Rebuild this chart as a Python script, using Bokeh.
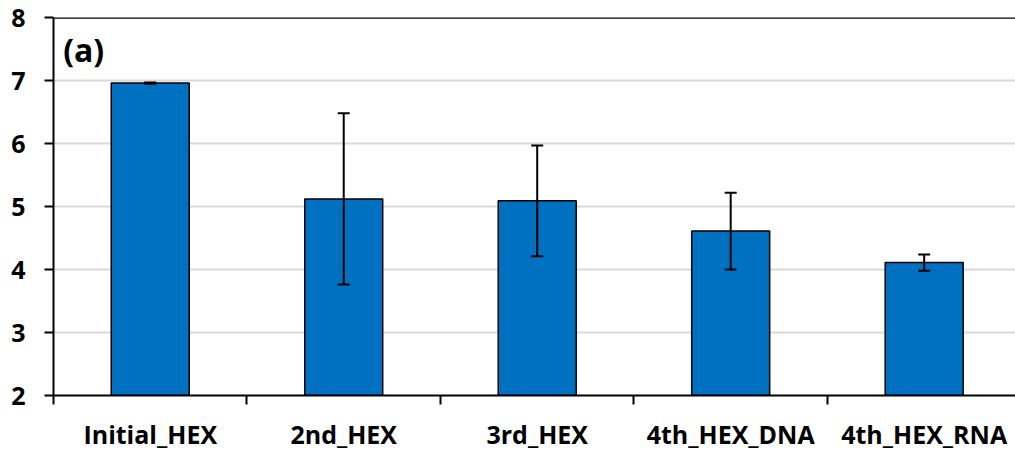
from bokeh.plotting import figure
from bokeh.models import (ColumnDataSource, Range1d, FixedTicker, Label, Span)
from bokeh.embed import file_html
from bokeh.resources import INLINE

# Mean values and error half-widths per heat-exchanger stage
categories = ["Initial_HEX", "2nd_HEX", "3rd_HEX", "4th_HEX_DNA", "4th_HEX_RNA"]
means = [6.96, 5.12, 5.09, 4.61, 4.11]
errors = [0.01, 1.36, 0.88, 0.61, 0.13]
y_ticks = [2, 3, 4, 5, 6, 7, 8]

FONT = "Open Sans"
BAR_COLOR = "#0070C0"

centers = [i + 0.5 for i in range(len(categories))]
source = ColumnDataSource(dict(
    x=centers,
    top=means,
    upper=[m + e for m, e in zip(means, errors)],
    lower=[m - e for m, e in zip(means, errors)],
))

p = figure(width=1015, height=453, output_backend="svg", toolbar_location=None,
           x_range=Range1d(0, 4.972), y_range=Range1d(2, 8),
           min_border_left=53, min_border_right=0, min_border_top=17,
           min_border_bottom=58)
p.outline_line_color = None
p.background_fill_color = "white"
p.border_fill_color = "white"

# Horizontal gridlines
p.xgrid.grid_line_color = None
p.ygrid.grid_line_color = "#d9d9d9"
p.ygrid.grid_line_width = 2
p.ygrid.ticker = FixedTicker(ticks=y_ticks)

# Bars
p.vbar(x="x", top="top", bottom=2, width=0.403, source=source,
       fill_color=BAR_COLOR, line_color="black", line_width=1.5)

# Error bars drawn on top of the bars: stem plus caps
p.segment(x0="x", y0="lower", x1="x", y1="upper", source=source,
          line_color="black", line_width=2)
p.dash(x="x", y="upper", size=12, source=source, line_color="black", line_width=2)
p.dash(x="x", y="lower", size=12, source=source, line_color="black", line_width=2)

# Top frame line
p.add_layout(Span(location=8, dimension="width", line_color="black", line_width=2.5))

# Y axis
p.yaxis.ticker = FixedTicker(ticks=y_ticks)
p.yaxis.axis_line_color = "black"
p.yaxis.axis_line_width = 2
p.yaxis.major_tick_line_color = "black"
p.yaxis.major_tick_line_width = 2
p.yaxis.major_tick_out = 9
p.yaxis.major_tick_in = 0
p.yaxis.minor_tick_line_color = None
p.yaxis.major_label_standoff = 19
p.yaxis.major_label_text_font = FONT
p.yaxis.major_label_text_font_style = "bold"
p.yaxis.major_label_text_font_size = "25px"
p.yaxis.major_label_text_color = "black"

# X axis: labels at category centres, separator ticks between categories
p.xaxis.ticker = FixedTicker(ticks=centers,
                             minor_ticks=list(range(len(categories) + 1)))
p.xaxis.major_label_overrides = {c: name for c, name in zip(centers, categories)}
p.xaxis.axis_line_color = "black"
p.xaxis.axis_line_width = 2
p.xaxis.major_tick_line_color = None
p.xaxis.major_tick_out = 0
p.xaxis.major_tick_in = 0
p.xaxis.minor_tick_line_color = "black"
p.xaxis.minor_tick_line_width = 2
p.xaxis.minor_tick_out = 9
p.xaxis.minor_tick_in = 0
p.xaxis.major_label_standoff = 12
p.xaxis.major_label_text_font = FONT
p.xaxis.major_label_text_font_style = "bold"
p.xaxis.major_label_text_font_size = "25px"
p.xaxis.major_label_text_color = "black"

# Panel tag
p.add_layout(Label(x=0.05, y=7.49, text="(a)", text_font=FONT,
                   text_font_style="bold", text_font_size="32px",
                   text_baseline="middle", text_color="black"))

open("out.html", "w").write(file_html(p, INLINE))
